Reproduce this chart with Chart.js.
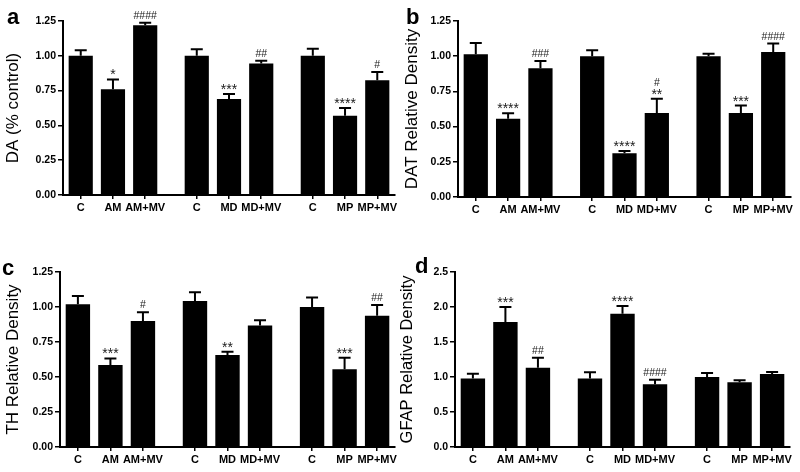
<!DOCTYPE html>
<html>
<head>
<meta charset="utf-8">
<script src="https://cdn.jsdelivr.net/npm/chart.js@4.4.0/dist/chart.umd.min.js"></script>
<style>
  body { margin: 0; background: #fff; }
  #wrap { position: relative; width: 800px; height: 472px; }
  canvas { position: absolute; }
  .tag { position: absolute; font: bold 22px "Liberation Sans", Arial, sans-serif; line-height: 1; color: #000; }
</style>
</head>
<body>
<div id="wrap">
  <canvas id="chartA" width="400" height="236" style="left:0;top:0"></canvas>
  <canvas id="chartB" width="400" height="236" style="left:400px;top:0"></canvas>
  <canvas id="chartC" width="400" height="236" style="left:0;top:236px"></canvas>
  <canvas id="chartD" width="400" height="236" style="left:400px;top:236px"></canvas>
  <div class="tag" style="left:7px;top:6px">a</div>
  <div class="tag" style="left:406px;top:6px">b</div>
  <div class="tag" style="left:2px;top:257px">c</div>
  <div class="tag" style="left:415px;top:255px">d</div>
</div>
<script>
// groups and bar positions (gap between treatment groups)
const groupLabels = ['C', 'AM', 'AM+MV', 'C', 'MD', 'MD+MV', 'C', 'MP', 'MP+MV'];
const xPos = [0, 1, 2, 3.6, 4.6, 5.6, 7.2, 8.2, 9.2];

// a - DA
const daMean = [1.00, 0.76, 1.22, 1.00, 0.69, 0.945, 1.00, 0.57, 0.825];
const daErr  = [0.04, 0.07, 0.017, 0.047, 0.035, 0.02, 0.05, 0.055, 0.058];
const daSig  = ['', '*', '####', '', '***', '##', '', '****', '#'];

// b - DAT
const datMean = [1.013, 0.556, 0.914, 1.00, 0.31, 0.597, 1.00, 0.597, 1.03];
const datErr  = [0.08, 0.038, 0.052, 0.043, 0.017, 0.10, 0.018, 0.052, 0.06];
const datSig  = ['', '****', '###', '', '****', '#\n**', '', '***', '####'];

// c - TH
const thMean = [1.019, 0.586, 0.90, 1.043, 0.657, 0.867, 1.00, 0.555, 0.938];
const thErr  = [0.06, 0.047, 0.062, 0.062, 0.024, 0.038, 0.067, 0.083, 0.076];
const thSig  = ['', '***', '#', '', '**', '', '', '***', '##'];

// d - GFAP
const gfapMean = [0.98, 1.786, 1.133, 0.98, 1.905, 0.895, 1.00, 0.924, 1.043];
const gfapErr  = [0.068, 0.214, 0.143, 0.087, 0.109, 0.067, 0.057, 0.028, 0.028];
const gfapSig  = ['', '***', '##', '', '****', '####', '', '', ''];

const FONT = '"Liberation Sans", Arial, sans-serif';
Chart.defaults.font.family = FONT;
Chart.defaults.color = '#000';

// upper error bar + significance marks above each bar
const errorBarPlugin = {
    id: 'errorBars',
    afterDatasetsDraw(chart) {
        const ctx = chart.ctx;
        const ds = chart.data.datasets[0];
        const yScale = chart.scales.y;
        ctx.save();
        chart.getDatasetMeta(0).data.forEach((bar, i) => {
            const top = yScale.getPixelForValue(ds.data[i].y + ds.errors[i]);
            ctx.strokeStyle = '#000';
            ctx.lineWidth = 2;
            ctx.beginPath();
            ctx.moveTo(bar.x, bar.y);
            ctx.lineTo(bar.x, top);
            ctx.moveTo(bar.x - 6, top);
            ctx.lineTo(bar.x + 6, top);
            ctx.stroke();

            const lines = (ds.marks[i] || '').split('\n').filter(Boolean).reverse();
            let bottom = top - 4;
            lines.forEach(txt => {
                const star = txt.includes('*');
                ctx.font = (star ? '14px ' : '10.5px ') + FONT;
                ctx.fillStyle = '#1a1a1a';
                ctx.textAlign = 'center';
                ctx.textBaseline = 'alphabetic';
                const m = ctx.measureText(txt);
                const base = bottom - m.actualBoundingBoxDescent;
                ctx.fillText(txt, bar.x, base);
                bottom = base - m.actualBoundingBoxAscent - 3;
            });
        });
        ctx.restore();
    }
};

function makePanel(id, title, mean, err, sig, yMax, yStep, digits, box) {
    return new Chart(document.getElementById(id), {
        type: 'bar',
        data: {
            datasets: [{
                data: mean.map((v, i) => ({ x: xPos[i], y: v })),
                errors: err,
                marks: sig,
                backgroundColor: '#000',
                barPercentage: 0.75,
                categoryPercentage: 1
            }]
        },
        options: {
            responsive: false,
            animation: false,
            layout: { padding: { top: box.top, right: box.right, left: 0, bottom: 0 } },
            plugins: { legend: { display: false }, tooltip: { enabled: false } },
            scales: {
                x: {
                    type: 'linear',
                    min: -0.55,
                    max: 9.75,
                    offset: false,
                    afterBuildTicks: s => { s.ticks = xPos.map(v => ({ value: v })); },
                    afterFit: s => { s.height = 236 - box.bottom; },
                    ticks: {
                        callback: (v, i) => groupLabels[i],
                        autoSkip: false,
                        maxRotation: 0,
                        color: '#000',
                        padding: 2,
                        font: { size: 11, weight: 'bold' }
                    },
                    grid: { drawOnChartArea: false, offset: false, tickLength: 4, color: '#000', lineWidth: 1.5 },
                    border: { color: '#000', width: 2 }
                },
                y: {
                    min: 0,
                    max: yMax,
                    afterFit: s => { s.width = box.left; },
                    ticks: {
                        stepSize: yStep,
                        callback: v => v.toFixed(digits),
                        color: '#000',
                        padding: 2,
                        font: { size: 10.5, weight: 'bold' }
                    },
                    grid: { drawOnChartArea: false, tickLength: 5, color: '#000', lineWidth: 1.5 },
                    border: { color: '#000', width: 2 },
                    title: {
                        display: true,
                        text: title,
                        color: '#000',
                        padding: { top: box.titlePad, bottom: 4 },
                        font: { size: box.titleSize, lineHeight: 1 }
                    }
                }
            }
        },
        plugins: [errorBarPlugin]
    });
}

makePanel('chartA', 'DA (% control)', daMean, daErr, daSig, 1.25, 0.25, 2, { left: 63, right: 5, top: 21, bottom: 195, titlePad: 5, titleSize: 17 });
makePanel('chartB', 'DAT Relative Density', datMean, datErr, datSig, 1.25, 0.25, 2, { left: 58, right: 9, top: 21, bottom: 197, titlePad: 4, titleSize: 17 });
makePanel('chartC', 'TH Relative Density', thMean, thErr, thSig, 1.25, 0.25, 2, { left: 60, right: 5, top: 36, bottom: 211, titlePad: 5, titleSize: 17 });
makePanel('chartD', 'GFAP Relative Density', gfapMean, gfapErr, gfapSig, 2.5, 0.5, 1, { left: 55, right: 10, top: 36, bottom: 211, titlePad: -1, titleSize: 16.5 });
</script>
</body>
</html>
